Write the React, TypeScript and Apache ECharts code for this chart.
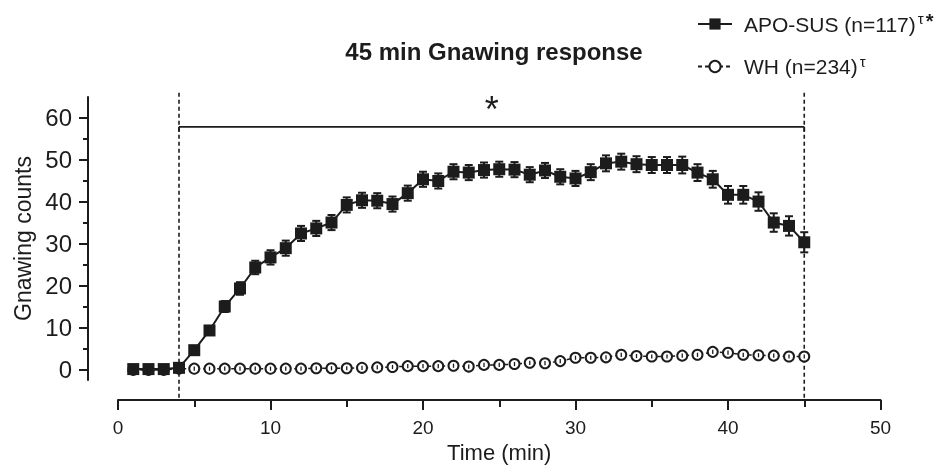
import React, { useEffect, useRef } from 'react';
import * as echarts from 'echarts';

const minutes = [1, 2, 3, 4, 5, 6, 7, 8, 9, 10, 11, 12, 13, 14, 15, 16, 17, 18, 19, 20, 21, 22, 23, 24, 25, 26, 27, 28, 29, 30, 31, 32, 33, 34, 35, 36, 37, 38, 39, 40, 41, 42, 43, 44, 45];
const apoSus = [0.2, 0.2, 0.2, 0.5, 4.7, 9.4, 15.1, 19.4, 24.4, 26.8, 29.0, 32.5, 33.7, 35.1, 39.3, 40.4, 40.3, 39.5, 42.1, 45.4, 45.0, 47.2, 47.0, 47.6, 47.8, 47.7, 46.5, 47.5, 46.0, 45.6, 47.1, 49.2, 49.6, 49.0, 48.8, 48.8, 48.8, 47.0, 45.4, 41.7, 41.7, 40.1, 35.1, 34.3, 30.4];
const apoSusSem = [0, 0, 0, 0.4, 0.8, 1.0, 1.3, 1.5, 1.6, 1.7, 1.8, 1.8, 1.8, 1.8, 1.8, 1.8, 1.8, 1.8, 1.8, 1.8, 1.8, 1.8, 1.8, 1.8, 1.8, 1.8, 1.8, 1.8, 1.8, 1.8, 1.9, 1.9, 1.9, 1.9, 1.9, 1.9, 2.0, 2.0, 2.0, 2.1, 2.1, 2.2, 2.2, 2.3, 2.4];
const wh = [0, 0, 0, 0.3, 0.3, 0.3, 0.3, 0.3, 0.3, 0.3, 0.3, 0.3, 0.4, 0.4, 0.4, 0.5, 0.6, 0.7, 0.9, 0.9, 0.9, 1.0, 0.8, 1.2, 1.2, 1.4, 1.7, 1.6, 2.1, 2.9, 2.9, 3.0, 3.6, 3.3, 3.2, 3.2, 3.4, 3.6, 4.3, 4.1, 3.6, 3.5, 3.4, 3.2, 3.2];
const whSem = [0, 0, 0, 0.5, 0.5, 0.5, 0.5, 0.5, 0.5, 0.5, 0.5, 0.5, 0.5, 0.5, 0.5, 0.5, 0.5, 0.5, 0.5, 0.5, 0.5, 0.5, 0.5, 0.5, 0.5, 0.5, 0.5, 0.5, 0.5, 0.5, 0.5, 0.5, 0.5, 0.5, 0.5, 0.5, 0.5, 0.5, 0.5, 0.5, 0.5, 0.5, 0.5, 0.5, 0.5];

const seriesNames = ['APO-SUS (n=117)', 'WH (n=234)'];
const seriesSuperscripts = ['τ', 'τ'];
const seriesStars = ['*', ''];
const titleText = '45 min Gnawing response';
const xAxisTitle = 'Time (min)';
const yAxisTitle = 'Gnawing counts';
const yTickValues = [0, 10, 20, 30, 40, 50, 60];
const yMinorTickValues = [5, 15, 25, 35, 45, 55];
const windowBounds = [4, 45];
const bracket = [[4, 45, 57.9]];
const bracketLabel = '*';

const X_MIN = 0, X_MAX = 50, X_INTERVAL = 10;
const Y_MIN = -2.4, Y_MAX = 65, Y_LINE_TOP = 66;
const X_OFFSET = 20;
const INK = '#1c1c1c';
const FONT = '"Liberation Sans", Arial, sans-serif';

export default function App() {
  const ref = useRef<HTMLDivElement>(null);
  useEffect(() => {
    if (!ref.current) return;
    const chart = echarts.init(ref.current, undefined, { renderer: 'svg' });

    const errRender = (capW: number, lw: number) => (params: any, api: any) => {
      const x = api.value(0), y = api.value(1), e = api.value(2);
      if (!e) return null;
      const hi = api.coord([x, y + e]);
      const lo = api.coord([x, y - e]);
      const st = { stroke: INK, lineWidth: lw };
      return {
        type: 'group',
        children: [
          { type: 'line', shape: { x1: hi[0], y1: hi[1], x2: lo[0], y2: lo[1] }, style: st },
          { type: 'line', shape: { x1: hi[0] - capW, y1: hi[1], x2: hi[0] + capW, y2: hi[1] }, style: st },
          { type: 'line', shape: { x1: lo[0] - capW, y1: lo[1], x2: lo[0] + capW, y2: lo[1] }, style: st },
        ],
      };
    };

    const option: any = {
      animation: false,
      textStyle: { fontFamily: FONT, color: INK },
      grid: { left: 118, right: 67.5, top: 97, bottom: 96 },
      graphic: [
        {
          type: 'text', x: 494, y: 51, z: 10,
          style: {
            text: titleText, font: `bold 24px ${FONT}`, fill: INK,
            textAlign: 'center', textVerticalAlign: 'middle', align: 'center', verticalAlign: 'middle',
          },
        },
      ],
      legend: {
        orient: 'vertical', left: 692, top: 6,
        itemWidth: 34, itemHeight: 14, itemGap: 19,
        data: seriesNames,
        formatter: (name: string) => {
          const i = seriesNames.indexOf(name);
          return `{a|${name}}{s|${seriesSuperscripts[i]}}{t|${seriesStars[i]}}`;
        },
        textStyle: {
          rich: {
            a: { fontSize: 21, lineHeight: 26, fontFamily: FONT, color: INK, padding: [0, 0, 0, 7] },
            s: { fontSize: 15, lineHeight: 8, verticalAlign: 'top', fontFamily: FONT, color: INK, padding: [0, 0, 0, 2] },
            t: { fontSize: 20, lineHeight: 14, verticalAlign: 'top', fontFamily: FONT, color: INK, fontWeight: 'bold', padding: [0, 0, 0, 2] },
          },
        },
      },
      xAxis: {
        type: 'value', min: X_MIN, max: X_MAX, interval: X_INTERVAL,
        offset: X_OFFSET,
        name: xAxisTitle, nameLocation: 'middle', nameGap: 41,
        nameTextStyle: { fontSize: 22, color: INK, fontFamily: FONT },
        axisLine: { show: true, onZero: false, lineStyle: { color: INK, width: 2 } },
        axisTick: { show: true, length: 10, lineStyle: { color: INK, width: 2 } },
        minorTick: { show: true, splitNumber: 2, length: 7, lineStyle: { color: INK, width: 2 } },
        axisLabel: { fontSize: 19, margin: 18, color: INK, fontFamily: FONT },
        splitLine: { show: false },
      },
      yAxis: [
        {
          type: 'value', min: Y_MIN, max: Y_MAX, offset: 30, position: 'left',
          name: yAxisTitle, nameLocation: 'middle', nameGap: 52,
          nameTextStyle: { fontSize: 23, color: INK, fontFamily: FONT },
          axisLine: { show: true, onZero: false, lineStyle: { color: INK, width: 2 } },
          axisTick: { show: true, length: 9, customValues: yTickValues, lineStyle: { color: INK, width: 2 } },
          axisLabel: { fontSize: 24, margin: 16, color: INK, fontFamily: FONT, customValues: yTickValues },
          splitLine: { show: false },
        },
        {
          type: 'value', min: Y_MIN, max: Y_MAX, offset: 30, position: 'left',
          axisLine: { show: false, onZero: false },
          axisTick: { show: true, length: 5, customValues: yMinorTickValues, lineStyle: { color: INK, width: 2 } },
          axisLabel: { show: false },
          splitLine: { show: false },
        },
      ],
      series: [
        {
          type: 'custom', name: 'window', z: 1, silent: true,
          data: windowBounds.map((x) => [x, 0]),
          encode: { x: 0, y: 1 },
          renderItem: (params: any, api: any) => {
            const x = api.value(0);
            const top = api.coord([x, Y_LINE_TOP]);
            const bot = api.coord([x, Y_MIN]);
            return {
              type: 'line',
              shape: { x1: top[0], y1: top[1], x2: bot[0], y2: bot[1] + X_OFFSET },
              style: { stroke: INK, lineWidth: 1.6, lineDash: [4, 3] },
            };
          },
        },
        {
          type: 'custom', name: 'bracket', z: 1, silent: true,
          data: bracket,
          encode: { x: [0, 1], y: 2 },
          renderItem: (params: any, api: any) => {
            const a = api.coord([api.value(0), api.value(2)]);
            const b = api.coord([api.value(1), api.value(2)]);
            const st = { stroke: INK, lineWidth: 1.8 };
            return {
              type: 'group',
              children: [
                { type: 'line', shape: { x1: a[0], y1: a[1], x2: b[0], y2: b[1] }, style: st },
                { type: 'line', shape: { x1: a[0], y1: a[1], x2: a[0], y2: a[1] + 5 }, style: st },
                { type: 'line', shape: { x1: b[0], y1: b[1], x2: b[0], y2: b[1] + 5 }, style: st },
                {
                  type: 'text', x: (a[0] + b[0]) / 2, y: a[1] - 17,
                  style: {
                    text: bracketLabel, font: `36px ${FONT}`, fill: INK,
                    textAlign: 'center', textVerticalAlign: 'middle', align: 'center', verticalAlign: 'middle',
                  },
                },
              ],
            };
          },
        },
        {
          type: 'line', name: seriesNames[1], z: 2,
          data: minutes.map((m, i) => [m, wh[i]]),
          symbol: 'circle', symbolSize: 10,
          itemStyle: { color: '#ffffff', borderColor: INK, borderWidth: 2 },
          lineStyle: { color: INK, width: 1.5, type: [4, 3] },
        },
        {
          type: 'custom', name: 'wh-err', z: 3, silent: true,
          data: minutes.map((m, i) => [m, wh[i], whSem[i]]),
          encode: { x: 0, y: 1 },
          renderItem: errRender(0, 1.3),
        },
        {
          type: 'custom', name: 'apo-err', z: 4, silent: true,
          data: minutes.map((m, i) => [m, apoSus[i], apoSusSem[i]]),
          encode: { x: 0, y: 1 },
          renderItem: errRender(4, 2),
        },
        {
          type: 'line', name: seriesNames[0], z: 5,
          data: minutes.map((m, i) => [m, apoSus[i]]),
          symbol: 'rect', symbolSize: 12,
          itemStyle: { color: INK },
          lineStyle: { color: INK, width: 2 },
        },
      ],
    };
    chart.setOption(option);
    return () => chart.dispose();
  }, []);
  return <div ref={ref} style={{ position: 'fixed', left: 0, top: 0, width: 948, height: 476 }} />;
}
